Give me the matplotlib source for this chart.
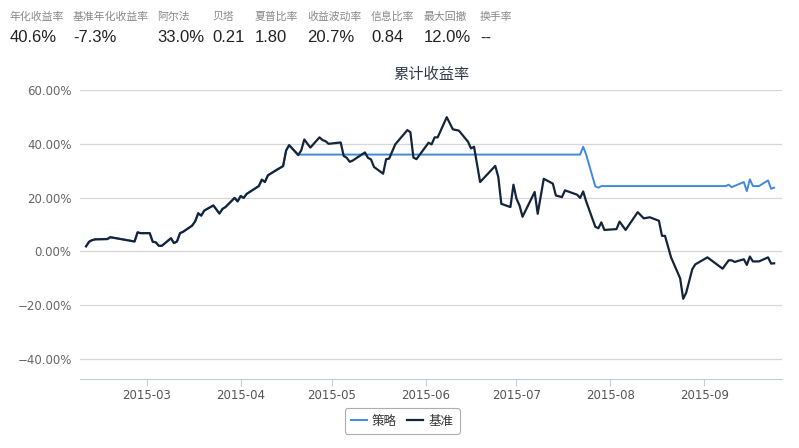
import matplotlib
matplotlib.use("Agg")
import matplotlib.pyplot as plt
import matplotlib.dates as mdates
import pandas as pd
from matplotlib.ticker import FuncFormatter

plt.rcParams['font.family'] = ['DejaVu Sans', 'Noto Sans CJK SC']

# Summary numbers shown above the chart
stat_names = ["年化收益率", "基准年化收益率", "阿尔法", "贝塔", "夏普比率",
              "收益波动率", "信息比率", "最大回撤", "换手率"]
stat_values = ["40.6%", "-7.3%", "33.0%", "0.21", "1.80", "20.7%", "0.84", "12.0%", "--"]

# Benchmark cumulative return (%)
bench_dates = ["2015-02-09", "2015-02-10", "2015-02-11", "2015-02-12", "2015-02-16", "2015-02-17",
               "2015-02-18", "2015-02-25", "2015-02-26", "2015-02-27", "2015-03-02", "2015-03-03",
               "2015-03-04", "2015-03-05", "2015-03-06", "2015-03-09", "2015-03-10", "2015-03-11",
               "2015-03-12", "2015-03-13", "2015-03-16", "2015-03-17", "2015-03-18", "2015-03-19",
               "2015-03-20", "2015-03-23", "2015-03-25", "2015-03-26", "2015-03-27", "2015-03-30",
               "2015-03-31", "2015-04-01", "2015-04-02", "2015-04-03", "2015-04-07", "2015-04-08",
               "2015-04-09", "2015-04-10", "2015-04-13", "2015-04-15", "2015-04-16", "2015-04-17",
               "2015-04-20", "2015-04-21", "2015-04-22", "2015-04-24", "2015-04-27", "2015-04-28",
               "2015-04-29", "2015-04-30", "2015-05-04", "2015-05-05", "2015-05-06", "2015-05-07",
               "2015-05-08", "2015-05-12", "2015-05-13", "2015-05-14", "2015-05-15", "2015-05-18",
               "2015-05-19", "2015-05-20", "2015-05-22", "2015-05-26", "2015-05-27", "2015-05-28",
               "2015-05-29", "2015-06-02", "2015-06-03", "2015-06-04", "2015-06-05", "2015-06-08",
               "2015-06-10", "2015-06-12", "2015-06-15", "2015-06-16", "2015-06-17", "2015-06-19",
               "2015-06-24", "2015-06-25", "2015-06-26", "2015-06-29", "2015-06-30", "2015-07-01",
               "2015-07-02", "2015-07-03", "2015-07-07", "2015-07-08", "2015-07-10", "2015-07-13",
               "2015-07-14", "2015-07-16", "2015-07-17", "2015-07-21", "2015-07-22", "2015-07-23",
               "2015-07-24", "2015-07-27", "2015-07-28", "2015-07-29", "2015-07-30", "2015-08-03",
               "2015-08-04", "2015-08-06", "2015-08-10", "2015-08-12", "2015-08-14", "2015-08-17",
               "2015-08-18", "2015-08-19", "2015-08-21", "2015-08-24", "2015-08-25", "2015-08-26",
               "2015-08-28", "2015-08-29", "2015-09-02", "2015-09-07", "2015-09-09", "2015-09-10",
               "2015-09-11", "2015-09-14", "2015-09-15", "2015-09-16", "2015-09-17", "2015-09-19",
               "2015-09-22", "2015-09-23", "2015-09-24"]
bench_values = [1.9, 3.6, 4.2, 4.5, 4.6, 5.3,
                5.1, 3.7, 7.1, 6.8, 6.8, 3.6,
                3.4, 2.1, 2.1, 4.9, 3.1, 3.7,
                6.8, 7.3, 9.6, 11.2, 14.2, 13.3,
                15.2, 17.1, 14.1, 15.8, 16.5, 19.9,
                18.6, 20.6, 19.9, 21.4, 24.3, 26.7,
                25.8, 28.3, 30.4, 31.7, 37.5, 39.5,
                35.8, 37.6, 41.6, 38.6, 42.4, 41.4,
                41.0, 40.0, 40.5, 35.5, 34.8, 33.3,
                33.8, 36.8, 34.8, 34.2, 31.4, 28.9,
                34.3, 34.5, 39.8, 45.1, 44.3, 34.9,
                34.3, 40.4, 39.8, 42.4, 42.4, 49.9,
                45.4, 44.9, 40.8, 38.3, 38.9, 25.8,
                31.8, 27.7, 17.7, 16.5, 24.8, 19.6,
                17.1, 12.9, 22.1, 14.0, 27.0, 25.2,
                20.8, 20.2, 22.7, 21.1, 19.9, 22.3,
                18.6, 9.2, 8.6, 10.8, 8.0, 8.3,
                11.1, 8.0, 14.6, 12.3, 12.7, 11.4,
                5.8, 5.8, -2.2, -10.0, -17.6, -15.3,
                -6.6, -4.8, -2.2, -6.4, -3.3, -3.3,
                -3.9, -2.9, -5.0, -1.9, -3.7, -3.7,
                -2.2, -4.5, -4.4]

# Strategy cumulative return (%); before 2015-04-20 it runs under the benchmark line
strat_dates = ["2015-02-09", "2015-04-20", "2015-07-22", "2015-07-23", "2015-07-24", "2015-07-27",
               "2015-07-28", "2015-07-29", "2015-09-08", "2015-09-09", "2015-09-10", "2015-09-14",
               "2015-09-15", "2015-09-16", "2015-09-17", "2015-09-19", "2015-09-22", "2015-09-23",
               "2015-09-24"]
strat_values = [1.9, 36.0, 36.0, 38.9, 36.0, 24.2,
                23.7, 24.3, 24.3, 24.8, 23.9, 25.8,
                22.4, 26.8, 24.3, 24.3, 26.4, 23.3,
                23.7]

y_ticks = [-40, -20, 0, 20, 40, 60]


def build_strategy_series():
    # Strategy follows the benchmark until it goes flat on 2015-04-20
    b = pd.Series(bench_values, index=pd.to_datetime(bench_dates))
    s = pd.Series(strat_values, index=pd.to_datetime(strat_dates))
    early = b[b.index < s.index[1]]
    return pd.concat([early, s[s.index >= s.index[1]]])


def draw_header(fig):
    x_pos = [10, 73, 157, 212, 255, 307, 371, 424, 480]
    for x, name, val in zip(x_pos, stat_names, stat_values):
        fig.text(x / 799, 1 - 17 / 448, name, fontsize=7.8, color="#888888",
                 ha="left", va="center", family=["Noto Sans CJK SC", "DejaVu Sans"])
        fig.text(x / 799, 1 - 38 / 448, val, fontsize=12, color="#222222",
                 ha="left", va="center", family=["Liberation Sans", "DejaVu Sans"])


def draw_chart():
    fig = plt.figure(figsize=(7.99, 4.48), dpi=100)
    ax = fig.add_axes([80 / 799, 69 / 448, 702 / 799, 289 / 448])

    bench = pd.Series(bench_values, index=pd.to_datetime(bench_dates))
    strat = build_strategy_series()

    ax.plot(strat.index, strat.values, color="#4289d8", lw=1.4, label="策略", zorder=3)
    ax.plot(bench.index, bench.values, color="#14243a", lw=1.6, label="基准", zorder=4)

    ax.set_ylim(-47.4, 60)
    ax.set_yticks(y_ticks)
    ax.yaxis.set_major_formatter(FuncFormatter(lambda v, p: f"{v:.2f}%".replace("-", "\u2212")))
    ax.grid(axis="y", color="#d6d6d6", lw=0.9)
    ax.set_axisbelow(True)

    left = mdates.date2num(pd.Timestamp("2015-02-07"))
    right = mdates.date2num(pd.Timestamp("2015-09-26")) + 0.6
    ax.set_xlim(left, right)
    ax.xaxis.set_major_locator(mdates.MonthLocator(bymonthday=1))
    ax.xaxis.set_major_formatter(mdates.DateFormatter("%Y-%m"))

    for side in ["left", "right", "top"]:
        ax.spines[side].set_visible(False)
    ax.spines["bottom"].set_color("#c0ccd8")
    ax.tick_params(axis="x", length=5, color="#c0ccd8", labelsize=8.5, labelcolor="#555555", pad=2)
    ax.tick_params(axis="y", length=0, labelsize=8.5, labelcolor="#666666", pad=6)

    ax.set_title("累计收益率", fontsize=11, color="#333d4a", pad=8)

    leg = ax.legend(loc="center", bbox_to_anchor=(402 / 799, 421 / 448 * -1 + 1),
                    bbox_transform=fig.transFigure, ncol=2, frameon=True, fontsize=9,
                    handlelength=1.3, columnspacing=0.8, handletextpad=0.4,
                    borderpad=0.5, fancybox=True)
    leg.get_frame().set_edgecolor("#999999")
    leg.get_frame().set_linewidth(0.8)
    for t in leg.get_texts():
        t.set_color("#333333")

    draw_header(fig)
    return fig


if __name__ == "__main__":
    fig = draw_chart()
    fig.savefig("out.png", dpi=100)
